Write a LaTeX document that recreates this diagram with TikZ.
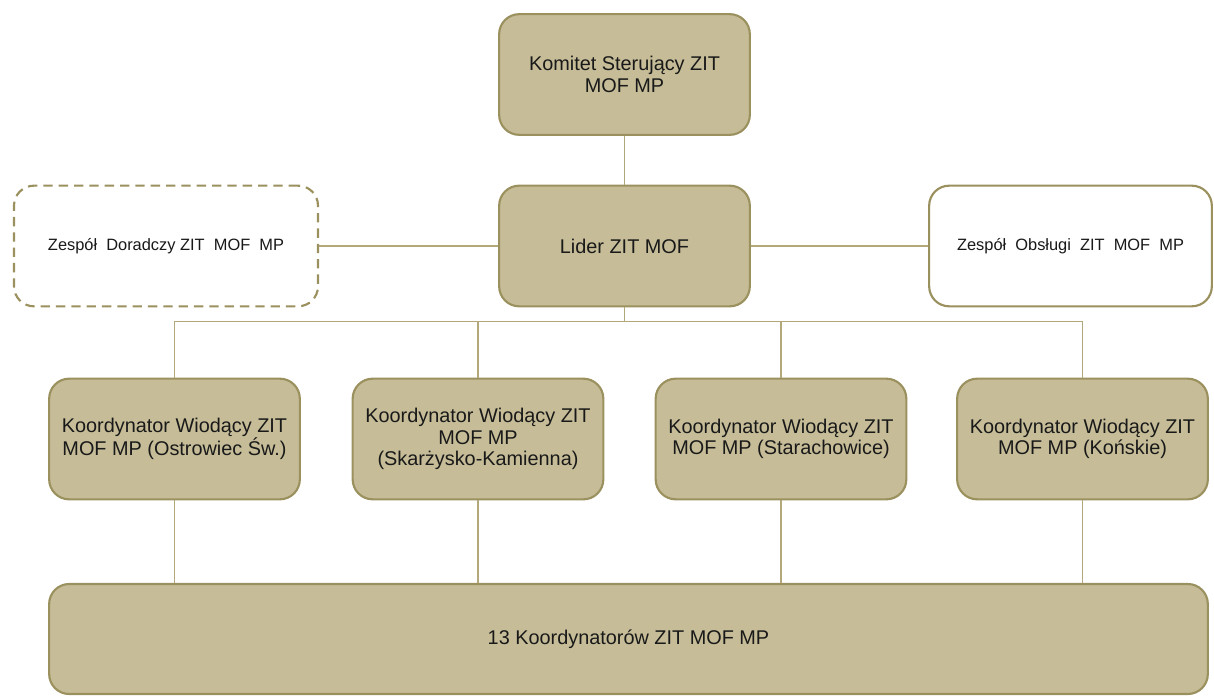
\documentclass[tikz,border=0pt]{standalone}
\usepackage{fontspec}
\setmainfont{Liberation Sans}
\definecolor{boxfill}{RGB}{198,189,152}
\definecolor{boxline}{RGB}{155,145,95}
\definecolor{conn}{RGB}{178,168,122}
\definecolor{txt}{RGB}{25,25,25}
\begin{document}
\begin{tikzpicture}[x=0.75pt,y=-0.75pt,
  tanbox/.style={draw=boxline, line width=1.6pt, fill=boxfill, rounded corners=15pt,
     align=center, text=txt, font=\fontsize{14.9}{16.2}\selectfont, inner sep=2pt},
  kbox/.style={tanbox, minimum width=188pt, minimum height=90.5pt},
  sidebox/.style={draw=boxline, line width=1.6pt, fill=white, rounded corners=15pt,
     align=center, text=txt, font=\fontsize{12.3}{14}\selectfont, minimum height=90.5pt},
  link/.style={draw=conn, line width=1.1pt}
]
\useasboundingbox (0,0) rectangle (1214,696);
\node[kbox] (kom) at (624.5,74.5) {Komitet Sterujący ZIT\\MOF MP};
\node[kbox] (lid) at (624.5,246) {Lider ZIT MOF};
\node[sidebox, dash pattern=on 7pt off 4.5pt, minimum width=228pt] (dor) at (166,246) {Zespół\ \ Doradczy ZIT\ \ MOF\ \ MP};
\node[sidebox, minimum width=212pt] (obs) at (1070.5,246) {Zespół\ \ Obsługi\ \ ZIT\ \ MOF\ \ MP};
\node[kbox] (k1) at (174.5,439) {Koordynator Wiodący ZIT\\MOF MP (Ostrowiec Św.)};
\node[kbox] (k2) at (478,439) {Koordynator Wiodący ZIT\\MOF MP\\(Skarżysko-Kamienna)};
\node[kbox] (k3) at (781,439) {Koordynator Wiodący ZIT\\MOF MP (Starachowice)};
\node[kbox] (k4) at (1082.5,439) {Koordynator Wiodący ZIT\\MOF MP (Końskie)};
\node[tanbox, minimum width=869pt, minimum height=82.5pt] (all) at (628.5,639) {13 Koordynatorów ZIT MOF MP};
\draw[link] (kom.south) -- (lid.north);
\draw[link] (lid.west) -- (dor.east);
\draw[link] (lid.east) -- (obs.west);
\coordinate (bus) at ([yshift=-10.5pt]lid.south);
\draw[link] (lid.south) -- (bus);
\foreach \k in {k1,k2,k3,k4}{
  \draw[link] (bus) -| (\k.north);
  \draw[link] (\k.south) -- (\k.south |- all.north);
}
\end{tikzpicture}
\end{document}
